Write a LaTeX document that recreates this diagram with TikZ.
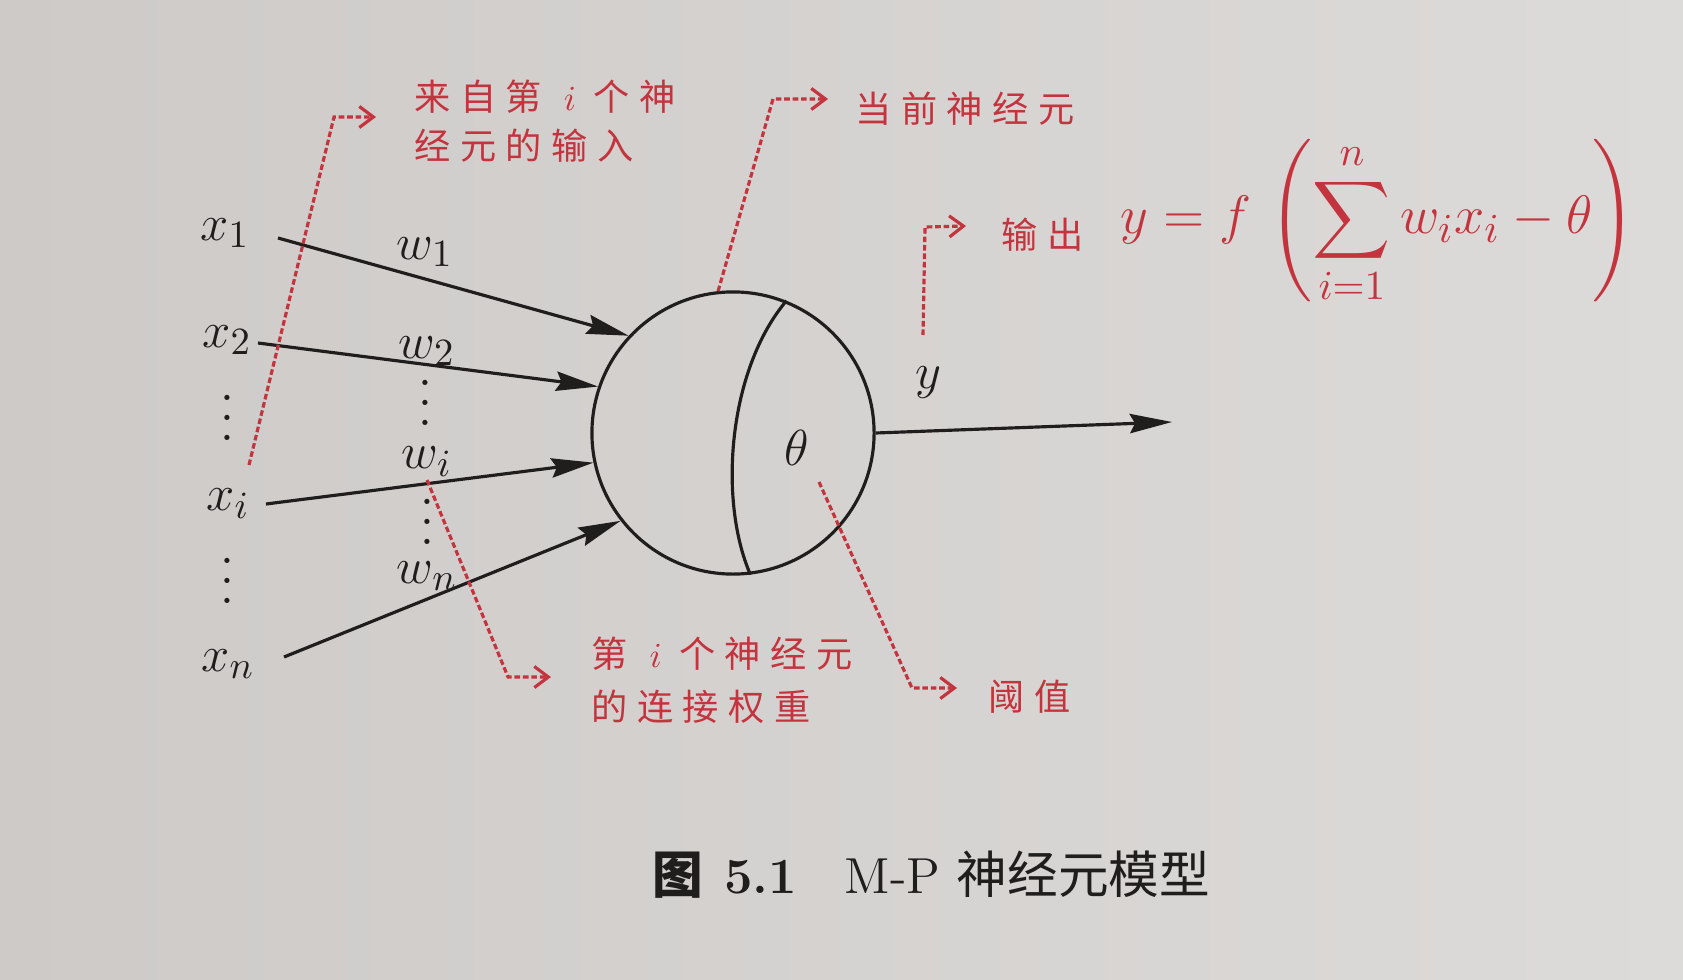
\documentclass[tikz,border=0pt]{standalone}
\usepackage{fontspec}
\usepackage{amsmath}
\usepackage{graphicx}
\newfontfamily\cjk{Noto Sans CJK SC}
\usetikzlibrary{arrows.meta}
\definecolor{ink}{RGB}{32,29,29}
\definecolor{annored}{RGB}{196,52,62}
\definecolor{bgl}{RGB}{205,202,200}
\definecolor{bgr}{RGB}{221,219,217}
\makeatletter
\def\cjkspaced#1{\cjkspaced@a#1\relax}
\def\cjkspaced@a#1{\ifx#1\relax\else#1\kern0.26em\expandafter\cjkspaced@a\fi}
\makeatother
\newcommand\myvdots{{\fontsize{18}{20}\selectfont\vbox{\baselineskip=0.2cm\lineskiplimit=0pt\hbox{.}\hbox{.}\hbox{.}}}}
\begin{document}
\begin{tikzpicture}[x=0.01cm, y=-0.01cm,
  lbl/.style={text=ink, font=\fontsize{15}{18}\selectfont, inner sep=0},
  annot/.style={text=annored, font=\fontsize{10.3}{12}\selectfont\cjk, inner sep=0, anchor=west},
  arr/.style={draw=ink, line width=0.9pt, -{Stealth[length=12pt,width=5.5pt,inset=1.5pt]}},
  ptr/.style={draw=annored, line width=0.9pt, dash pattern=on 1.6pt off 0.8pt, -{Straight Barb[length=4pt,width=6pt]}}]
\useasboundingbox (0,0) rectangle (1683,979);
\shade[left color=bgl, right color=bgr] (0,0) rectangle (1683,979);

% neuron
\node[circle, draw=ink, line width=0.9pt, minimum size=2.82cm, inner sep=0] (neuron) at (733,433) {};
\draw[ink, line width=0.9pt] (neuron.68) .. controls (728,370) and (718,500) .. (neuron.-83);
\node[lbl] (theta) at (797,448) {$\theta$};

% inputs
\node[lbl] (x1) at (225,233) {$x_1$};
\node[lbl] (x2) at (227,340) {$x_2$};
\node[lbl] (xd1) at (227,418) {\myvdots};
\node[lbl] (xi) at (228,504) {$x_i$};
\node[lbl] (xd2) at (227,581) {\myvdots};
\node[lbl] (xn) at (228,664) {$x_n$};

\coordinate (s1) at (278,238);
\coordinate (s2) at (258,343);
\coordinate (si) at (266,504);
\coordinate (sn) at (284,657);
\draw[arr] (s1) -- (neuron.137);
\draw[arr] (s2) -- (neuron.161);
\draw[arr] (si) -- (neuron.192);
\draw[arr] (sn) -- (neuron.218);

\node[lbl] (w1) at (425,252) {$w_1$};
\node[lbl] (w2) at (427,351) {$w_2$};
\node[lbl] (wd1) at (425,403) {\myvdots};
\node[lbl] (wi) at (427,462) {$w_i$};
\node[lbl] (wd2) at (427,522) {\myvdots};
\node[lbl] (wn) at (427,576) {$w_n$};

% output
\coordinate (yend) at (1172,422);
\draw[arr] (neuron.east) -- (yend);
\node[lbl] (ylab) at (928,383) {$y$};

% annotations
\coordinate (p1s) at (249,465);
\coordinate (p1c) at (334,117);
\coordinate (p1e) at (376,117);
\draw[ptr] (p1s) -- (p1c) -- (p1e);
\node[annot] (t1a) at (414,97) {\cjkspaced{来自第}\kern3.5pt$i$\kern5pt\cjkspaced{个神}};
\node[annot] (t1b) at (414,146) {\cjkspaced{经元的输入}};

\coordinate (p2c) at (773,99);
\coordinate (p2e) at (828,99);
\draw[ptr] (neuron.96) -- (p2c) -- (p2e);
\node[annot] (t2) at (855,109) {\cjkspaced{当前神经元}};

\coordinate (p3s) at (923,335);
\coordinate (p3c) at (925,227);
\coordinate (p3e) at (966,226);
\draw[ptr] (p3s) -- (p3c) -- (p3e);
\node[annot] (t3) at (1001,235) {\cjkspaced{输出}};
\node[anchor=west, inner sep=0, text=annored, font=\fontsize{15}{18}\selectfont] (formula) at (1120,222)
  {\scalebox{1.07}{$\displaystyle y = f\,\left(\sum_{i=1}^{n} w_i x_i - \theta\right)$}};

\coordinate (p4s) at (427,480);
\coordinate (p4c) at (508,677);
\coordinate (p4e) at (551,677);
\draw[ptr] (p4s) -- (p4c) -- (p4e);
\node[annot] (t4a) at (591,654) {\cjkspaced{第}\kern3.5pt$i$\kern5pt\cjkspaced{个神经元}};
\node[annot] (t4b) at (591,707) {\cjkspaced{的连接权重}};

\coordinate (p5s) at (819,482);
\coordinate (p5c) at (912,688);
\coordinate (p5e) at (957,688);
\draw[ptr] (p5s) -- (p5c) -- (p5e);
\node[annot] (t5) at (988,697) {\cjkspaced{阈值}};

% caption
\node[anchor=base west, inner sep=0, text=ink, font=\fontsize{14.4}{17}\selectfont] (cap) at (652,893)
  {{\cjk\bfseries 图}\hspace{6pt}\textbf{5.1}\hspace{13.5pt}M-P {\cjk 神经元模型}};
\end{tikzpicture}
\end{document}
